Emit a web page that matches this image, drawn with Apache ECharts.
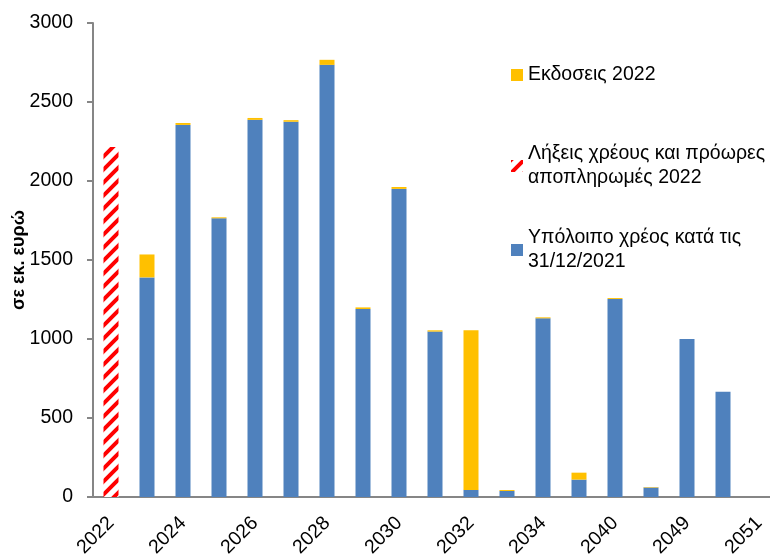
<!DOCTYPE html>
<html>
<head>
<meta charset="utf-8">
<script src="https://cdn.jsdelivr.net/npm/echarts@6/dist/echarts.min.js"></script>
<style>
  html, body { margin: 0; padding: 0; background: #ffffff; }
  #chart { width: 770px; height: 558px; }
</style>
</head>
<body>
<div id="chart"></div>
<script>
// Years of maturity (every other label is shown on the axis)
const years = ['2022', '2023', '2024', '2025', '2026', '2027', '2028', '2029', '2030', '2031',
               '2032', '2033', '2034', '2035', '2040', '2045', '2049', '2050', '2051'];

// Remaining debt as of 31/12/2021 (EUR million)
const remaining = ['-', 1390, 2355, 1764, 2387, 2375, 2735, 1190, 1950, 1047,
                   45, 38, 1131, 110, 1253, 60, 1000, 666, '-'];

// New issues in 2022 (EUR million)
const issues = ['-', 145, 12, 6, 12, 10, 32, 10, 12, 8,
                1010, 6, 6, 44, 6, 3, '-', '-', '-'];

// Maturities and early repayments in 2022 (EUR million)
const maturities = [2215, '-', '-', '-', '-', '-', '-', '-', '-', '-',
                    '-', '-', '-', '-', '-', '-', '-', '-', '-'];

const yTicks = { min: 0, max: 3000, step: 500 };

const NAME_ISSUES = 'Εκδοσεις 2022';
const NAME_MATURITIES = 'Λήξεις χρέους και πρόωρες\nαποπληρωμές 2022';
const NAME_REMAINING = 'Υπόλοιπο χρέος κατά τις\n31/12/2021';

const FONT = '"Liberation Sans", Arial, sans-serif';

// Red diagonal hatch tile used for the maturities bar
function makeHatch() {
  const c = document.createElement('canvas');
  c.width = 13; c.height = 13;
  const ctx = c.getContext('2d');
  ctx.fillStyle = '#ffffff';
  ctx.fillRect(0, 0, 13, 13);
  ctx.strokeStyle = '#ff0000';
  ctx.lineWidth = 4;
  ctx.beginPath();
  ctx.moveTo(-6.5, 6.5); ctx.lineTo(6.5, -6.5);
  ctx.moveTo(0, 13); ctx.lineTo(13, 0);
  ctx.moveTo(6.5, 19.5); ctx.lineTo(19.5, 6.5);
  ctx.stroke();
  return c;
}

const chart = echarts.init(document.getElementById('chart'), null, { renderer: 'canvas' });

const legendText = { fontFamily: FONT, fontSize: 19.5, color: '#000000', lineHeight: 24 };

chart.setOption({
  animation: false,
  backgroundColor: '#ffffff',
  textStyle: { fontFamily: FONT },
  grid: { left: 93, top: 23, bottom: 61, right: -7, containLabel: false, outerBoundsMode: 'none' },
  legend: [
    {
      data: [NAME_ISSUES], orient: 'vertical', left: 506, top: 58,
      itemWidth: 12, itemHeight: 12, icon: 'rect', selectedMode: false,
      textStyle: legendText
    },
    {
      data: [NAME_MATURITIES], orient: 'vertical', left: 506, top: 125,
      itemWidth: 12, itemHeight: 12, icon: 'rect', selectedMode: false,
      textStyle: Object.assign({ padding: [24, 0, 0, 0] }, legendText)
    },
    {
      data: [NAME_REMAINING], orient: 'vertical', left: 506, top: 209,
      itemWidth: 12, itemHeight: 12, icon: 'rect', selectedMode: false,
      textStyle: Object.assign({ padding: [24, 0, 0, 0] }, legendText)
    }
  ],
  xAxis: {
    type: 'category',
    data: years,
    boundaryGap: true,
    axisLine: { show: true, lineStyle: { color: '#868686', width: 2 } },
    axisTick: { show: false },
    axisLabel: {
      interval: 1, rotate: 45, margin: 23,
      fontFamily: FONT, fontSize: 19.5, color: '#000000'
    },
    splitLine: { show: false }
  },
  yAxis: {
    type: 'value',
    min: yTicks.min, max: yTicks.max, interval: yTicks.step,
    name: 'σε εκ. ευρώ',
    nameLocation: 'middle',
    nameGap: 65,
    nameRotate: 90,
    nameMoveOverlap: false,
    nameTextStyle: { fontFamily: FONT, fontSize: 18, fontWeight: 'bold', color: '#000000' },
    axisLine: { show: true, lineStyle: { color: '#868686', width: 2 } },
    axisTick: { show: true, length: 6, lineStyle: { color: '#868686', width: 2 } },
    axisLabel: {
      margin: 20, fontFamily: FONT, fontSize: 19.5, color: '#000000',
      formatter: function (v) { return String(v); }
    },
    splitLine: { show: false }
  },
  series: [
    {
      name: NAME_REMAINING, type: 'bar', stack: 'debt', barWidth: 15,
      itemStyle: { color: '#4f81bd' },
      data: remaining
    },
    {
      name: NAME_ISSUES, type: 'bar', stack: 'debt', barWidth: 15,
      itemStyle: { color: '#ffc000' },
      data: issues
    },
    {
      name: NAME_MATURITIES, type: 'bar', stack: 'debt', barWidth: 15,
      itemStyle: { color: { image: makeHatch(), repeat: 'repeat' } },
      data: maturities
    }
  ]
});
</script>
</body>
</html>
